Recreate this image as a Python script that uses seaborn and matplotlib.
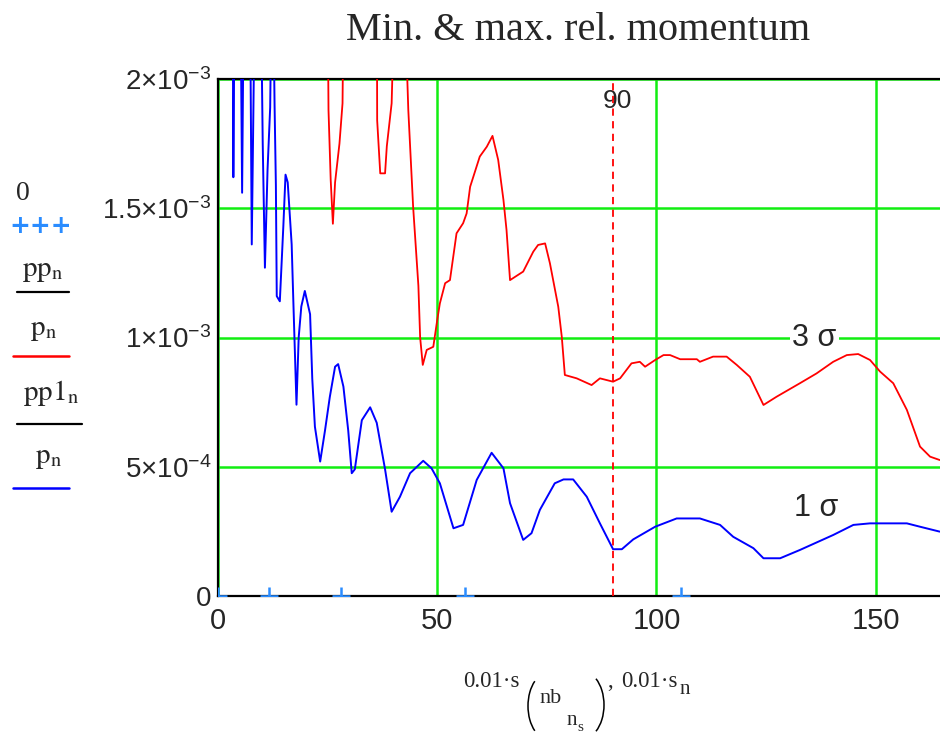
import matplotlib
matplotlib.use("Agg")
import matplotlib.pyplot as plt
from matplotlib.lines import Line2D
from matplotlib.patches import Arc
from matplotlib.transforms import IdentityTransform
from matplotlib import font_manager as fm
import seaborn as sns
import pandas as pd

# ---------------- data ----------------
blue_s = [3.3, 3.5, 3.9, 5.0, 5.5, 6.0, 7.2, 7.7, 8.3, 8.9, 9.6, 10.2, 10.7, 11.3, 11.9, 12.4,
          12.9, 13.2, 13.4, 14.1, 14.9, 15.4, 15.9, 16.8, 17.2, 17.9, 18.4, 19.0, 19.8, 21.0,
          21.5, 22.1, 23.3, 24.4, 25.5, 26.7, 27.4, 28.6, 29.7, 30.5, 31.2, 32.8, 34.7, 36.2,
          38.1, 39.6, 41.5, 43.8, 46.8, 48.7, 50.6, 53.7, 55.9, 59.0, 62.4, 65.1, 66.6, 69.6,
          71.5, 73.4, 76.8, 78.8, 81.0, 84.1, 87.1, 90.1, 92.1, 94.7, 99.7, 104.6, 109.9, 114.5,
          117.5, 122.1, 124.4, 128.2, 132.7, 140.3, 144.9, 148.7, 157.1, 160.1, 164.6]
blue_v = [2.6e-3, 1.62e-3, 2.6e-3, 2.6e-3, 1.56e-3, 2.6e-3, 2.6e-3, 1.36e-3, 2.2e-3, 2.6e-3,
          2.6e-3, 1.75e-3, 1.27e-3, 1.65e-3, 1.89e-3, 2.6e-3, 1.9e-3, 1.59e-3, 1.16e-3, 1.14e-3,
          1.43e-3, 1.63e-3, 1.6e-3, 1.36e-3, 1.13e-3, 0.74e-3, 1.0e-3, 1.12e-3, 1.18e-3, 1.09e-3,
          0.84e-3, 0.655e-3, 0.52e-3, 0.64e-3, 0.77e-3, 0.887e-3, 0.897e-3, 0.81e-3, 0.64e-3,
          0.475e-3, 0.49e-3, 0.68e-3, 0.73e-3, 0.67e-3, 0.49e-3, 0.326e-3, 0.384e-3, 0.475e-3,
          0.523e-3, 0.494e-3, 0.436e-3, 0.262e-3, 0.275e-3, 0.449e-3, 0.554e-3, 0.494e-3,
          0.359e-3, 0.217e-3, 0.243e-3, 0.333e-3, 0.436e-3, 0.451e-3, 0.451e-3, 0.384e-3,
          0.281e-3, 0.181e-3, 0.181e-3, 0.219e-3, 0.268e-3, 0.300e-3, 0.300e-3, 0.275e-3,
          0.229e-3, 0.185e-3, 0.146e-3, 0.146e-3, 0.178e-3, 0.236e-3, 0.275e-3, 0.281e-3,
          0.281e-3, 0.268e-3, 0.249e-3]

red_s = [24.9, 25.2, 25.7, 26.2, 26.7, 27.7, 28.4, 28.8, 32.0, 36.2, 36.3, 37.0, 38.1, 38.5,
         39.6, 40.7, 41.6, 42.6, 43.4, 44.5, 45.7, 46.1, 46.7, 47.6, 49.1, 50.0, 50.6, 51.8,
         52.9, 54.4, 55.9, 56.7, 57.5, 59.7, 61.3, 62.6, 63.9, 65.1, 65.8, 66.6, 69.6, 71.9,
         73.0, 74.6, 75.7, 77.6, 78.4, 79.1, 81.8, 85.2, 87.1, 90.1, 91.7, 94.3, 96.2, 97.4,
         99.7, 101.6, 103.1, 105.4, 109.2, 109.9, 112.9, 116.0, 118.3, 121.3, 124.4, 127.4,
         132.7, 136.5, 140.3, 143.4, 146.0, 148.7, 151.0, 154.0, 157.1, 160.1, 162.4, 164.6]
red_v = [2.6e-3, 1.88e-3, 1.61e-3, 1.44e-3, 1.6e-3, 1.75e-3, 1.906e-3, 2.6e-3, 2.9e-3, 2.6e-3,
         1.84e-3, 1.635e-3, 1.635e-3, 1.74e-3, 1.906e-3, 2.6e-3, 2.9e-3, 2.3e-3, 1.88e-3,
         1.506e-3, 1.2e-3, 1.0e-3, 0.894e-3, 0.952e-3, 0.964e-3, 1.068e-3, 1.132e-3, 1.21e-3,
         1.222e-3, 1.403e-3, 1.442e-3, 1.48e-3, 1.583e-3, 1.70e-3, 1.738e-3, 1.78e-3, 1.687e-3,
         1.532e-3, 1.416e-3, 1.222e-3, 1.255e-3, 1.332e-3, 1.358e-3, 1.364e-3, 1.287e-3,
         1.119e-3, 1.003e-3, 0.855e-3, 0.842e-3, 0.816e-3, 0.842e-3, 0.829e-3, 0.842e-3,
         0.900e-3, 0.906e-3, 0.887e-3, 0.913e-3, 0.932e-3, 0.932e-3, 0.916e-3, 0.916e-3,
         0.906e-3, 0.926e-3, 0.926e-3, 0.894e-3, 0.848e-3, 0.739e-3, 0.771e-3, 0.823e-3,
         0.861e-3, 0.906e-3, 0.932e-3, 0.936e-3, 0.913e-3, 0.868e-3, 0.823e-3, 0.720e-3,
         0.578e-3, 0.539e-3, 0.526e-3]

marker_s = [0.0, 11.6, 28.0, 56.3, 105.5]
marker_v = [0.0, 0.0, 0.0, 0.0, 0.0]

x_ticks = [0, 50, 100, 150]
x_tick_labels = ["0", "50", "100", "150"]
y_ticks = [0, 5e-4, 1e-3, 1.5e-3, 2e-3]
y_tick_labels = [r"$0$", r"$5{\times}10^{-4}$", r"$1{\times}10^{-3}$",
                 r"$1.5{\times}10^{-3}$", r"$2{\times}10^{-3}$"]
marker_line = 90
marker_line_label = "90"
title = "Min. & max. rel. momentum"

# ---------------- style ----------------
sns.set_style("white")
avail = {f.name for f in fm.fontManager.ttflist}
SANS = "Liberation Sans" if "Liberation Sans" in avail else "DejaVu Sans"
SERIF = "Liberation Serif" if "Liberation Serif" in avail else "DejaVu Serif"
plt.rcParams["font.family"] = [SANS, "DejaVu Sans"]
plt.rcParams["mathtext.fontset"] = "custom"
plt.rcParams["mathtext.rm"] = SANS
plt.rcParams["mathtext.it"] = SANS
plt.rcParams["mathtext.bf"] = SANS

W, H = 940, 734
fig = plt.figure(figsize=(W / 100, H / 100), dpi=100)


def fx(px):
    return px / W


def fy(py):
    return 1 - py / H


ax = fig.add_axes([fx(218), fy(596), 723.5 / W, 517 / H])

df_blue = pd.DataFrame({"s": blue_s, "v": blue_v})
df_red = pd.DataFrame({"s": red_s, "v": red_v})
df_mark = pd.DataFrame({"s": marker_s, "v": marker_v})

sns.lineplot(data=df_red, x="s", y="v", ax=ax, color="#ff0000", lw=1.3,
             sort=False, estimator=None, zorder=3)
sns.lineplot(data=df_blue, x="s", y="v", ax=ax, color="#0000ff", lw=1.4,
             sort=False, estimator=None, zorder=3)
sns.scatterplot(data=df_mark, x="s", y="v", ax=ax, marker="+", s=150, color="#2a8cff",
                linewidth=1.8, zorder=4)

ax.set_xlim(0, 165)
ax.set_ylim(0, 2e-3)
ax.set_xticks(x_ticks)
ax.set_xticklabels(x_tick_labels)
ax.set_yticks(y_ticks)
ax.set_yticklabels(y_tick_labels)
ax.tick_params(length=0, labelsize=20)
ax.tick_params(axis="x", labelsize=21, pad=8)
ax.tick_params(axis="y", pad=5)
ax.set_xlabel("")
ax.set_ylabel("")

ax.grid(True, color="#11ee11", lw=1.8)
ax.set_axisbelow(True)
for side in ["left", "bottom", "top"]:
    ax.spines[side].set_color("black")
    ax.spines[side].set_linewidth(1.6)
ax.spines["right"].set_visible(False)

ax.axvline(marker_line, color="#ff0000", lw=1.3, ls=(0, (4, 3)), zorder=2.6)
ax.text(marker_line + 1.0, 1.915e-3, marker_line_label, ha="center", va="center",
        fontsize=19, zorder=2.5)

ax.text(136.0, 1.0e-3, "3 σ", ha="center", va="center", fontsize=22,
        bbox=dict(facecolor="white", edgecolor="none", pad=1.5), zorder=5)
ax.text(136.3, 0.34e-3, "1 σ", ha="center", va="center", fontsize=22, zorder=5)

# title
fig.text(fx(578), fy(30), title, ha="center", va="center", family=SERIF, fontsize=29)

# x label, assembled Mathcad-style
def label_piece(x, y, s, size):
    fig.text(fx(x), fy(y), s, ha="left", va="baseline", family=SERIF, fontsize=size)


label_piece(463, 687, "0.01·s", 16.5)
label_piece(539, 703, "nb", 16)
label_piece(567, 725, "n", 15)
label_piece(577, 731, "s", 11)
label_piece(607, 687, ",", 16.5)
label_piece(621, 687, "0.01·s", 16.5)
label_piece(680, 694, "n", 15)
fig.add_artist(Arc((548, H - 706), 40, 66, theta1=118, theta2=242,
                   transform=IdentityTransform(), color="black", lw=1.1))
fig.add_artist(Arc((582, H - 705), 44, 68, theta1=-62, theta2=62,
                   transform=IdentityTransform(), color="black", lw=1.1))

# left-side legend (Mathcad y-axis expressions)
fig.text(fx(23), fy(193), "0", ha="center", va="center", family=SERIF, fontsize=20)
fig.text(fx(41), fy(226), "+++", ha="center", va="center", color="#2a8cff",
         fontsize=18, family="DejaVu Sans", fontweight="bold")
fig.text(fx(43), fy(270), r"$\mathrm{pp}_{\mathrm{n}}$", ha="center", va="center",
         fontsize=21, math_fontfamily="stix")
fig.add_artist(Line2D([fx(17), fx(69)], [fy(292), fy(292)], color="black", lw=1.6))
fig.text(fx(43), fy(329), r"$\mathrm{p}_{\mathrm{n}}$", ha="center", va="center",
         fontsize=21, math_fontfamily="stix")
fig.add_artist(Line2D([fx(13), fx(69)], [fy(356), fy(356)], color="#ff0000", lw=1.8))
fig.text(fx(51), fy(393), r"$\mathrm{pp1}_{\mathrm{n}}$", ha="center", va="center",
         fontsize=21, math_fontfamily="stix")
fig.add_artist(Line2D([fx(17), fx(82)], [fy(424), fy(424)], color="black", lw=1.6))
fig.text(fx(48), fy(457), r"$\mathrm{p}_{\mathrm{n}}$", ha="center", va="center",
         fontsize=21, math_fontfamily="stix")
fig.add_artist(Line2D([fx(13), fx(69)], [fy(488), fy(488)], color="#0000ff", lw=1.8))

fig.savefig("out.png", dpi=100)
